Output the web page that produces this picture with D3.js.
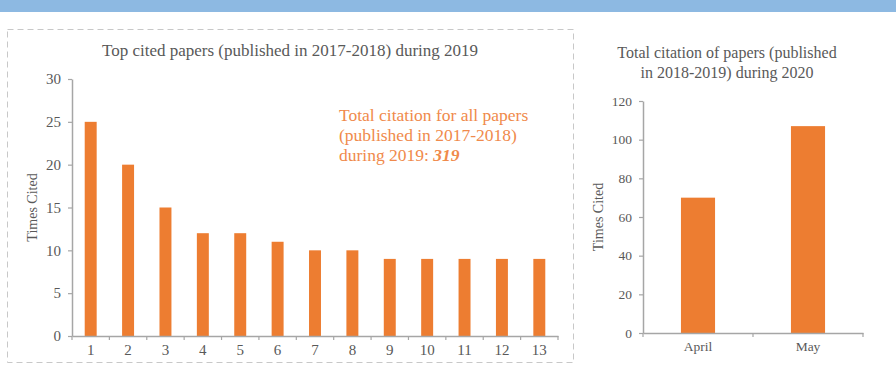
<!DOCTYPE html>
<html><head><meta charset="utf-8">
<script src="https://cdnjs.cloudflare.com/ajax/libs/d3/7.8.5/d3.min.js"></script>
<style>
html,body{margin:0;padding:0;background:#fff;}
svg{display:block;font-family:"Liberation Serif","Times New Roman",Times,serif;}
</style></head>
<body><svg id="c" width="896" height="380"></svg>
<script>
const leftCategories = ["1","2","3","4","5","6","7","8","9","10","11","12","13"];
const leftValues = [25,20,15,12,12,11,10,10,9,9,9,9,9];
const leftTicks = [0,5,10,15,20,25,30];
const rightCategories = ["April","May"];
const rightValues = [70,107];
const rightTicks = [0,20,40,60,80,100,120];

const svg = d3.select("#c");
const FONT = "Liberation Serif, Times New Roman, Times, serif";
const orange = "#ED7D31", axisCol = "#A6A6A6", textCol = "#595959";

svg.append("rect").attr("x",0).attr("y",0).attr("width",896).attr("height",12).attr("fill","#8DB9E2");
svg.append("rect").attr("x",7.5).attr("y",29.5).attr("width",566).attr("height",333)
  .attr("fill","none").attr("stroke","#C8C8C8").attr("stroke-dasharray","6,4");

function chart(cfg){
  const g = svg.append("g");
  const x = d3.scaleBand().domain(cfg.cats).range([cfg.x0,cfg.x1]).paddingInner(cfg.pad).paddingOuter(cfg.pad/2);
  const xb = d3.scaleBand().domain(cfg.cats).range([cfg.x0,cfg.x1]);
  const y = d3.scaleLinear().domain([0,cfg.max]).range([cfg.y0,cfg.y1]);
  g.selectAll("rect.bar").data(cfg.vals).enter().append("rect").attr("class","bar")
    .attr("x",(d,i)=>x(cfg.cats[i])).attr("width",x.bandwidth())
    .attr("y",d=>y(d)).attr("height",d=>y(0)-y(d)).attr("fill",orange);
  const ya = g.append("g").attr("transform",`translate(${cfg.x0},0)`)
    .call(d3.axisLeft(y).tickValues(cfg.ticks).tickSize(4).tickPadding(7).tickSizeOuter(0));
  const xa = g.append("g").attr("transform",`translate(0,${cfg.y0})`)
    .call(d3.axisBottom(xb).tickSize(0).tickPadding(cfg.xpad));
  const bounds = cfg.cats.map(c=>xb(c)).concat([cfg.x1]);
  g.selectAll("line.bt").data(bounds).enter().append("line")
    .attr("x1",d=>d).attr("x2",d=>d).attr("y1",cfg.y0).attr("y2",cfg.y0+4)
    .attr("stroke",axisCol).attr("stroke-width",1.2);
  [ya,xa].forEach(a=>{
    a.attr("font-family",FONT);
    a.select(".domain").attr("stroke",axisCol).attr("stroke-width",1.5);
    a.selectAll(".tick line").attr("stroke",axisCol).attr("stroke-width",1.2);
    a.selectAll("text").attr("fill",textCol).attr("font-size",cfg.fs+"px").attr("font-family",FONT);
  });
  g.append("text").attr("transform",`translate(${cfg.ylx},${(cfg.y0+cfg.y1)/2}) rotate(-90)`)
    .attr("text-anchor","middle").attr("fill",textCol).attr("font-family",FONT).attr("font-size","14px").text("Times Cited");
  return g;
}

chart({cats:leftCategories,vals:leftValues,ticks:leftTicks,max:30,x0:72,x1:558,y0:336,y1:79,pad:0.68,fs:15,xpad:8,ylx:37});
chart({cats:rightCategories,vals:rightValues,ticks:rightTicks,max:120,x0:643,x1:863,y0:333,y1:101,pad:0.69,fs:13.5,xpad:8,ylx:603});

svg.append("text").attr("x",290).attr("y",56).attr("text-anchor","middle").attr("fill",textCol)
  .attr("font-family",FONT).attr("font-size","17px").text("Top cited papers (published in 2017-2018) during 2019");

const ann = svg.append("text").attr("x",339).attr("fill","#F08A4B").attr("font-family",FONT).attr("font-size","17.5px");
ann.append("tspan").attr("x",339).attr("y",121).text("Total citation for all papers");
ann.append("tspan").attr("x",339).attr("y",141).text("(published in 2017-2018)");
ann.append("tspan").attr("x",339).attr("y",161).text("during 2019: ");
ann.append("tspan").attr("font-weight","bold").attr("font-style","italic").text("319");

const rt = svg.append("text").attr("text-anchor","middle").attr("fill",textCol).attr("font-family",FONT).attr("font-size","16px");
rt.append("tspan").attr("x",727).attr("y",58).text("Total citation of papers (published");
rt.append("tspan").attr("x",727).attr("y",78).text("in 2018-2019) during 2020");
</script></body></html>
